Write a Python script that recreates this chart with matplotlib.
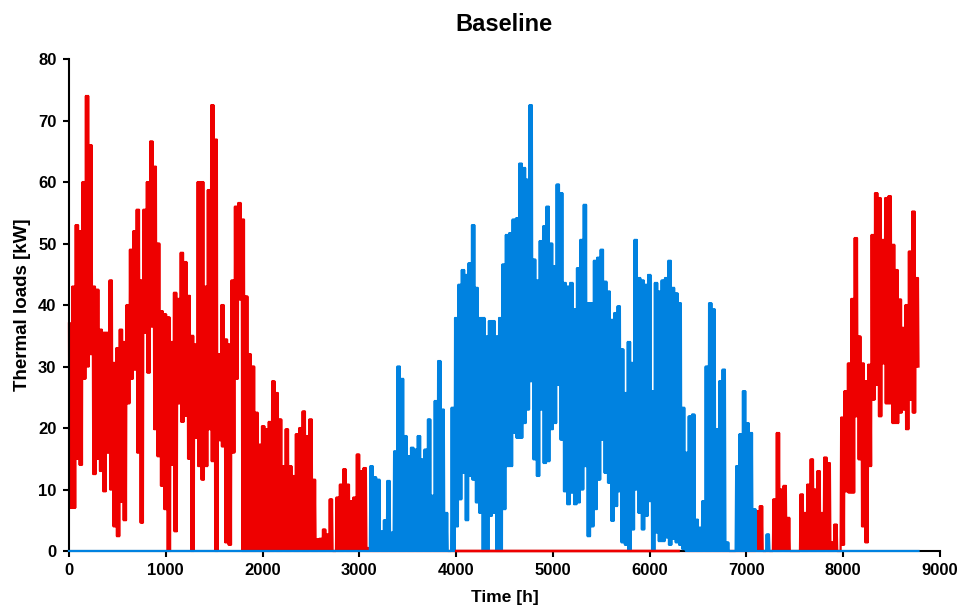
import matplotlib
matplotlib.use("Agg")
import matplotlib.pyplot as plt
import numpy as np

plt.rcParams['font.family'] = ['Liberation Sans', 'DejaVu Sans']
plt.rcParams['font.weight'] = 'bold'

BIN_H = 35
N_BINS = 251
SWINGS = 3  # daily swings drawn inside one block

# heating, winter part (blocks 0..88)
HEAT_WINTER_HIGH = [37, 43, 53, 52, 60, 74, 66, 43, 42.5, 36, 35.5, 35.5, 44, 30.6, 33, 36, 34,
                    40, 49, 52, 55.5, 44, 55.5, 60, 66.6, 62.5, 50, 39, 38.5, 38, 34, 42, 41,
                    48.5, 47, 41.5, 35, 33.6, 60, 60, 43, 58.7, 72.5, 66.9, 32, 40, 34.4, 33.6,
                    44, 56, 56.6, 53.9, 41.4, 32, 30, 22.5, 17.3, 20.3, 19.8, 21, 27.6, 25.7,
                    21.4, 13.8, 19.8, 13.8, 12.2, 19, 20, 22.7, 18.7, 21.4, 11.6, 1.9, 2, 3.5,
                    2.7, 8.4, 0, 8.7, 10.8, 13.3, 10.8, 8.1, 8.7, 15.7, 13, 13.5, 0.5]
HEAT_WINTER_LOW = [7, 7, 15, 14, 28, 30, 32, 12.5, 15, 13, 9.7, 16, 10, 4, 2.4, 8, 5, 24, 28,
                   29.5, 16, 4.6, 35.5, 29, 36.5, 19.8, 15.4, 10.6, 6.8, 0, 14, 3.2, 24, 21, 22,
                   15, 0, 18.4, 13.8, 11.6, 13.8, 19.8, 14.6, 0, 18, 17, 1.4, 1, 16, 28, 40.9,
                   0] + [0] * 37

# heating, autumn part (blocks 203..250)
HEAT_AUTUMN_START = 203
HEAT_AUTUMN_HIGH = [6.5, 7.3, 0, 0, 0, 8.4, 19.2, 10, 10.6, 5.4, 0, 0, 0, 9.2, 6.2, 10.8, 14.9,
                    10, 13, 6.2, 15.2, 14.3, 1.4, 4.3, 0, 21.7, 26, 30.5, 41, 50.9, 34.9, 30.5,
                    27.6, 30.3, 51.4, 58.2, 57.4, 50.6, 57.4, 57.7, 49.8, 45.7, 40.9, 36.3, 40,
                    48.7, 55.2, 44.4]
HEAT_AUTUMN_LOW = [0] * 25 + [1, 9.7, 9.5, 9.5, 21.9, 14.9, 4, 1.4, 13.8, 24.6, 27, 21.9, 30.5,
                              24, 24, 20.8, 20.8, 22.5, 23, 19.8, 24.6, 22.5, 30]

# cooling (blocks 89..206)
COOL_START = 89
COOL_HIGH = [13.8, 12, 11.6, 3.2, 5, 11.4, 3, 16.2, 30, 28, 18.7, 15.4, 16.8, 16.5, 18.7, 14.9,
             16.5, 21.4, 9, 24.4, 30.9, 23, 6.2, 0, 23.3, 37.9, 43.3, 45.7, 44.9, 46.8, 53,
             42.8, 37.9, 37.9, 34.9, 37.4, 37.4, 34.9, 37.9, 46.6, 51.4, 51.7, 53.9, 54.1, 63,
             62.3, 60.4, 72.5, 47.4, 44, 50.4, 52.8, 56, 50, 46.3, 59.6, 58.2, 43.6, 43, 43.6,
             39.3, 46, 50.6, 56.3, 40.3, 40.3, 47.2, 47.7, 49, 43.8, 42.2, 37.6, 38.7, 39.8,
             32.8, 25.7, 34, 30.6, 50.6, 44.4, 44, 43.3, 44.9, 26, 43.6, 42.2, 44, 44.4, 47.2,
             42.8, 41.9, 40.3, 23.3, 16, 21.9, 22.2, 5.1, 3.8, 8.1, 30, 40.3, 39.3, 19.8, 27.6,
             29.5, 1.4, 0, 0, 13.8, 19, 26, 20.8, 19.2, 6.8, 0, 0, 0, 2.7]
COOL_LOW = [0] * 25 + [4, 8.4, 12.7, 5, 12.2, 11.6, 7.9, 6.2, 0, 0, 5.7, 6.2, 0, 0, 6.8, 13.8,
                       13.8, 19.2, 18.4, 18.4, 20.8, 23, 27.6, 14.9, 12.2, 23, 14.3, 14.6, 19.8,
                       20.8, 27, 18.1, 9.7, 7.6, 9.5, 7.6, 7.9, 10, 13.8, 2.4, 4, 6.8, 11.6, 18.1,
                       12.7, 11.1, 4.9, 7.3, 9.7, 1.4, 1, 0, 3.5, 10, 6.2, 3.5, 5.7, 8.1, 0, 3,
                       1.6, 1.6, 2.2, 1, 2, 1.4, 1, 0.3] + [0] * 25

# span where the heating line is drawn over the cooling line at zero
HEAT_ON_TOP = (4000, 6300)

RED = '#EE0000'
BLUE = '#0082E0'


def full_year(parts):
    arr = np.zeros(N_BINS)
    for start, vals in parts:
        arr[start:start + len(vals)] = vals
    return arr


def zigzag(hi, lo):
    """Swing between the block's high and low a few times per block."""
    n = 2 * SWINGS
    t = np.arange(len(hi)) * BIN_H
    x = (t[:, None] + np.arange(n)[None, :] * BIN_H / n).ravel()
    y = np.where(np.arange(n)[None, :] % 2 == 0, np.asarray(hi)[:, None], np.asarray(lo)[:, None]).ravel()
    return x, y


heat_hi = full_year([(0, HEAT_WINTER_HIGH), (HEAT_AUTUMN_START, HEAT_AUTUMN_HIGH)])
heat_lo = full_year([(0, HEAT_WINTER_LOW), (HEAT_AUTUMN_START, HEAT_AUTUMN_LOW)])
cool_hi = full_year([(COOL_START, COOL_HIGH)])
cool_lo = full_year([(COOL_START, COOL_LOW)])

hx, hy = zigzag(heat_hi, heat_lo)
cx, cy = zigzag(cool_hi, cool_lo)

fig = plt.figure(figsize=(9.62, 6.11), dpi=100)
ax = fig.add_axes([0.0717, 0.0982, 0.9053, 0.8052])

ax.plot(hx, hy, color=RED, lw=1.6, zorder=2, clip_on=False)
ax.plot(cx, cy, color=BLUE, lw=1.6, zorder=3, clip_on=False)
top = np.where((hx >= HEAT_ON_TOP[0]) & (hx <= HEAT_ON_TOP[1]), hy, np.nan)
ax.plot(hx, top, color=RED, lw=1.8, zorder=4, clip_on=False)

ax.set_xlim(0, 9000)
ax.set_ylim(0, 80)
ax.set_xticks(np.arange(0, 9001, 1000))
ax.set_yticks(np.arange(0, 81, 10))

for s in ['top', 'right']:
    ax.spines[s].set_visible(False)
for s in ['left', 'bottom']:
    ax.spines[s].set_linewidth(1.5)
    ax.spines[s].set_color('black')
ax.tick_params(direction='out', length=4, width=1.5, labelsize=12, pad=5)
for lab in ax.get_xticklabels() + ax.get_yticklabels():
    lab.set_fontweight('bold')

ax.set_title('Baseline', fontsize=17, fontweight='bold', pad=20)
ax.set_xlabel('Time [h]', fontsize=12.5, fontweight='bold', labelpad=8)
ax.set_ylabel('Thermal loads [kW]', fontsize=13.5, fontweight='bold', labelpad=5)

fig.savefig('out.png', dpi=100)
